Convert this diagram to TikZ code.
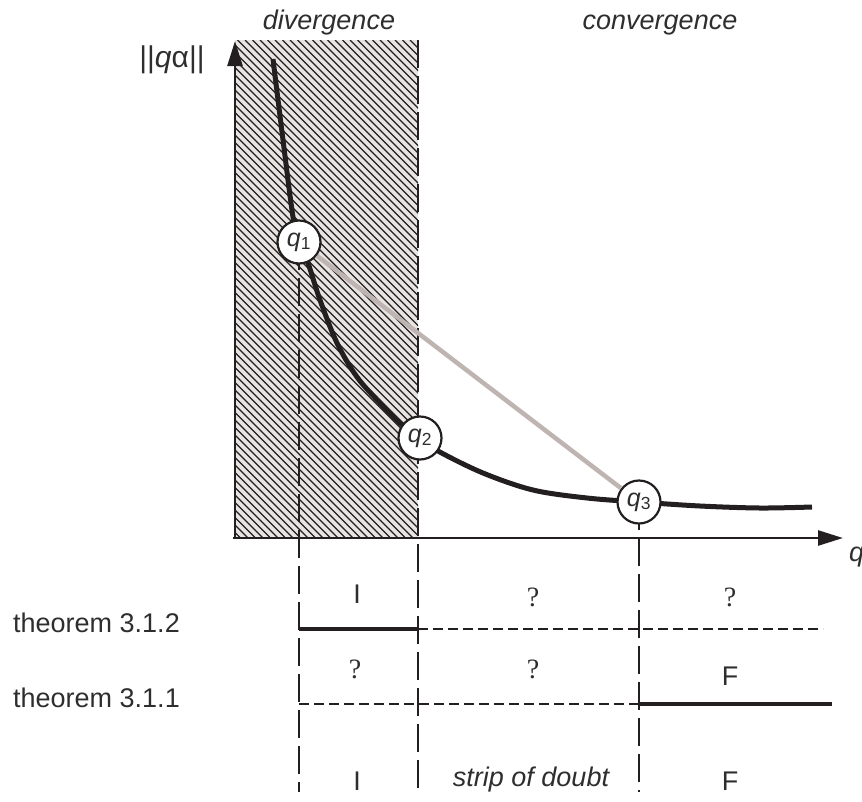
\documentclass[tikz,border=0pt]{standalone}
\usepackage{fontspec}
\setmainfont{Liberation Sans}
\newfontfamily\serifq{Liberation Serif}
\usetikzlibrary{arrows.meta}
\definecolor{ink}{HTML}{231F20}
\definecolor{txt}{HTML}{2E2E2E}
\definecolor{hatchbg}{HTML}{E8E4E2}
\definecolor{chordc}{HTML}{BEB4B1}
\begin{document}
\begin{tikzpicture}[x=1pt,y=-1pt,
  lbl/.style={font=\fontsize{27}{30}\selectfont, text=txt, inner sep=0},
  qmark/.style={font=\serifq\fontsize{28}{30}\selectfont, text=txt, inner sep=0},
  ptnode/.style={circle, draw=ink, line width=2.2pt, fill=white, minimum size=43pt, inner sep=0, font=\fontsize{25}{26}\selectfont, text=txt},
  vdash/.style={draw=ink, line width=2.2pt, dash pattern=on 28pt off 8pt},
  hdash/.style={draw=ink, line width=2pt, dash pattern=on 10pt off 5pt},
  solidseg/.style={draw=ink, line width=4.5pt},
  curveline/.style={draw=ink, line width=5pt},
  chordline/.style={draw=chordc, line width=4.5pt},
  axisline/.style={draw=ink, line width=2.5pt, -{Triangle[length=25pt,width=15pt]}}
]
\useasboundingbox (0,0) rectangle (862,801);

% hatched divergence region
\fill[hatchbg] (235,40) rectangle (418,538);
\begin{scope}
  \clip (235,40) rectangle (418,538);
  \foreach \i in {-520,-512.5,...,420}
    \draw[ink, line width=1.2pt] (\i,40) -- ++(520,520);
\end{scope}

% coordinates
\coordinate (O) at (235,538);
\coordinate (Ol) at (233,538);
\coordinate (ytip) at (235,41);
\coordinate (xtip) at (843,538);
\coordinate (rtop) at (418,40);
\coordinate (bot) at (0,792);
\coordinate (h1) at (0,629);
\coordinate (h2) at (0,704);
\coordinate (h1end) at (823,629);
\coordinate (h2end) at (832,704);
\coordinate (c1) at (299,242);
\coordinate (c2) at (420,438);
\coordinate (c3) at (639,502);

% dashed verticals
\draw[vdash] (rtop) -- (rtop |- bot);
\draw[vdash] (c1) -- (c1 |- bot);
\draw[vdash] (c3) -- (c3 |- bot);

% curve
\draw[curveline] plot[smooth, tension=0.55] coordinates {
  (273,59) (283,140) (293,217) (299,242) (308,263) (320,300) (337,343)
  (357,377) (380,403) (400,423) (420,438) (438,451) (483,473) (533,490)
  (587,498) (639,502) (700,506) (760,508) (812,507)};

% axes
\draw[axisline] (O) -- (ytip);
\draw[axisline] (Ol) -- (xtip);

% points
\node[ptnode] (q1) at (c1) {{\itshape q}\textsubscript{1}};
\node[ptnode] (q2) at (c2) {{\itshape q}\textsubscript{2}};
\node[ptnode] (q3) at (c3) {{\itshape q}\textsubscript{3}};
\draw[chordline] (q1) -- (q3);

% horizontal theorem lines
\draw[solidseg] (c1 |- h1) -- (rtop |- h1);
\draw[hdash] (rtop |- h1) -- (h1end);
\draw[hdash] (c1 |- h2) -- (c3 |- h2);
\draw[solidseg] (c3 |- h2) -- (h2end);

% labels
\node[lbl, anchor=base] (div) at (329,29) {\itshape divergence};
\node[lbl, anchor=base] (conv) at (660,29) {\itshape convergence};
\node[lbl, font=\fontsize{30}{32}\selectfont] (ylab) at (172,60) {||{\itshape q}α||};
\node[lbl, anchor=base west] (xlab) at (849,561) {\itshape q};
\node[lbl, anchor=base west] (t2) at (13,632) {theorem 3.1.2};
\node[lbl, anchor=base west] (t1) at (13,707) {theorem 3.1.1};

\node[lbl, anchor=base] (r1a) at (357,603) {I};
\node[qmark, anchor=base] (r1b) at (533,606) {?};
\node[qmark, anchor=base] (r1c) at (730,606) {?};
\node[qmark, anchor=base] (r2a) at (355,678) {?};
\node[qmark, anchor=base] (r2b) at (533,678) {?};
\node[lbl, anchor=base] (r2c) at (730,685) {F};
\node[lbl, anchor=base] (r3a) at (357,790) {I};
\node[lbl, anchor=base] (r3b) at (531,786) {\itshape strip of doubt};
\node[lbl, anchor=base] (r3c) at (730,790) {F};
\end{tikzpicture}
\end{document}
